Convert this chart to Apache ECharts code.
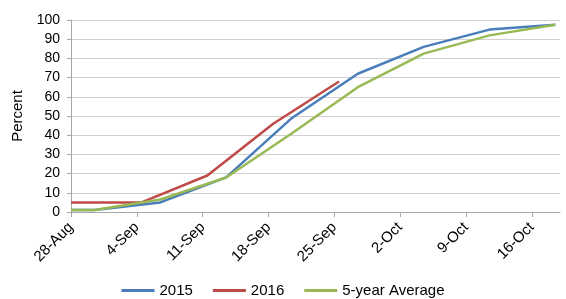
<!DOCTYPE html>
<html>
<head>
<meta charset="utf-8">
<script src="https://cdn.jsdelivr.net/npm/echarts@6/dist/echarts.min.js"></script>
<style>
  html, body { margin: 0; padding: 0; background: #fff; }
  #main { width: 566px; height: 299px; }
</style>
</head>
<body>
<div id="main"></div>
<script>
// x values are days counted from 28-Aug
const tickLabels = ['28-Aug', '4-Sep', '11-Sep', '18-Sep', '25-Sep', '2-Oct', '9-Oct', '16-Oct'];
const days2015 = [0, 2.5, 9.5, 16.5, 23.5, 30.5, 37.5, 44.5, 51.5];
const values2015 = [1, 1, 5, 18, 49, 72, 86, 95, 97.5];
const days2016 = [0, 7.5, 14.5, 21.5, 28.5];
const values2016 = [5, 5, 19, 46, 68];
const daysAvg = [0, 2.5, 9.5, 16.5, 23.5, 30.5, 37.5, 44.5, 51.5];
const valuesAvg = [1, 1, 6.5, 18, 41, 65, 82.5, 92, 97.5];

const pair = (xs, ys) => xs.map((x, i) => [x, ys[i]]);
const tickDays = tickLabels.map((_, i) => i * 7);

const myChart = echarts.init(document.getElementById('main'));

const lineSeries = (name, data, color) => ({
    name: name,
    type: 'line',
    data: data,
    symbol: 'none',
    lineStyle: { color: color, width: 2.5 },
    itemStyle: { color: color }
});

const option = {
    animation: false,
    textStyle: { fontFamily: 'Liberation Sans, Arial, sans-serif' },
    grid: { left: 71, right: 6, top: 20, bottom: 87 },
    legend: {
        top: 282,
        left: 'center',
        icon: 'rect',
        itemWidth: 33,
        itemHeight: 3,
        itemGap: 20,
        padding: 0,
        textStyle: { fontSize: 15, color: '#000', lineHeight: 17 },
        data: ['2015', '2016', '5-year Average']
    },
    xAxis: {
        type: 'value',
        min: 0,
        max: 52,
        interval: 7,
        splitLine: { show: false },
        axisLine: { lineStyle: { color: '#a6a6a6' } },
        axisTick: { show: true, length: 5, customValues: tickDays, lineStyle: { color: '#a6a6a6' } },
        axisLabel: {
            customValues: tickDays,
            rotate: 45,
            fontSize: 15,
            color: '#000',
            margin: 13,
            formatter: v => tickLabels[Math.round(v / 7)] || ''
        }
    },
    yAxis: {
        type: 'value',
        min: 0,
        max: 100,
        interval: 10,
        name: 'Percent',
        nameLocation: 'middle',
        nameGap: 45,
        nameTextStyle: { fontSize: 15, color: '#000' },
        axisLine: { show: true, lineStyle: { color: '#a6a6a6' } },
        axisTick: { show: true, length: 4, lineStyle: { color: '#a6a6a6' } },
        splitLine: { lineStyle: { color: '#d0d0d0' } },
        axisLabel: { fontSize: 14, color: '#000', margin: 11 }
    },
    series: [
        lineSeries('2015', pair(days2015, values2015), '#4a7ebb'),
        lineSeries('2016', pair(days2016, values2016), '#be4b48'),
        lineSeries('5-year Average', pair(daysAvg, valuesAvg), '#98b954')
    ]
};
myChart.setOption(option);
</script>
</body>
</html>
